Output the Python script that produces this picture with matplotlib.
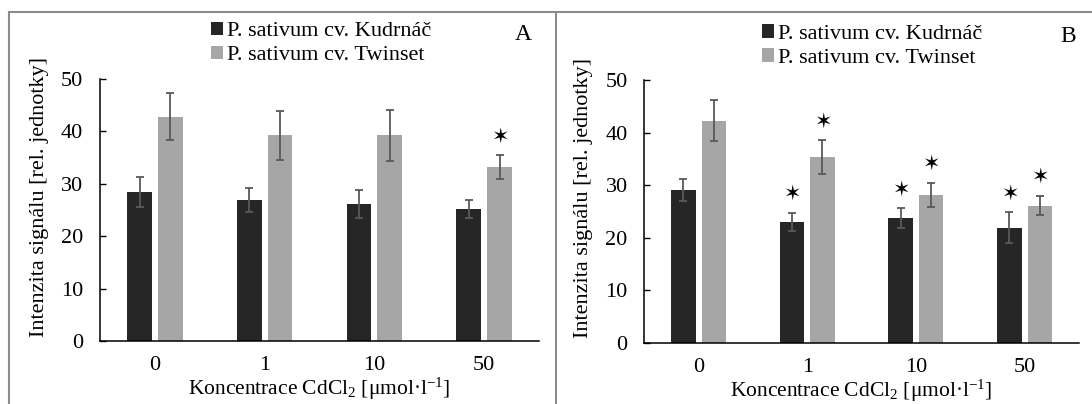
import matplotlib
matplotlib.use("Agg")
import matplotlib.pyplot as plt
from matplotlib.lines import Line2D
import numpy as np

plt.rcParams['font.family'] = ['Liberation Serif', 'DejaVu Serif']
plt.rcParams['mathtext.fontset'] = 'custom'
plt.rcParams['mathtext.rm'] = 'Liberation Serif'
plt.rcParams['mathtext.it'] = 'Liberation Serif:italic'

categories = ['0', '1', '10', '50']
series_names = ['P. sativum cv. Kudrnáč', 'P. sativum cv. Twinset']

# panel A
a_kudrnac = [28.4, 26.9, 26.1, 25.1]
a_kudrnac_err = [2.85, 2.35, 2.7, 1.7]
a_twinset = [42.8, 39.2, 39.2, 33.1]
a_twinset_err = [4.5, 4.6, 4.8, 2.3]
a_kudrnac_sig = [False, False, False, False]
a_twinset_sig = [False, False, False, True]

# panel B
b_kudrnac = [29.1, 23.0, 23.7, 21.9]
b_kudrnac_err = [2.1, 1.7, 1.85, 2.9]
b_twinset = [42.2, 35.3, 28.1, 26.1]
b_twinset_err = [3.9, 3.25, 2.3, 1.8]
b_kudrnac_sig = [False, True, True, True]
b_twinset_sig = [False, True, True, True]

dark = '#262626'
light = '#a6a6a6'
err_col = '#595959'
fs = 16

fig = plt.figure(figsize=(10.92, 4.04), dpi=100)


def panel(rect, k, ke, t, te, ks, ts, letter, letter_xy, leg_xy):
    ax = fig.add_axes(rect)
    x = np.arange(len(categories))
    w = 0.225
    off = 0.14
    ax.bar(x - off, k, w, color=dark, yerr=ke, label=series_names[0],
           error_kw=dict(ecolor=err_col, elinewidth=1.3, capsize=3, capthick=1.3))
    ax.bar(x + off, t, w, color=light, yerr=te, label=series_names[1],
           error_kw=dict(ecolor=err_col, elinewidth=1.3, capsize=3, capthick=1.3))
    # significance stars
    for i in range(len(categories)):
        if ks[i]:
            ax.text(x[i] - off, k[i] + ke[i] + 3.6, '✶', family='DejaVu Sans',
                    fontsize=15, ha='center', va='center')
        if ts[i]:
            ax.text(x[i] + off, t[i] + te[i] + 3.6, '✶', family='DejaVu Sans',
                    fontsize=15, ha='center', va='center')
    ax.set_xlim(-0.5, len(categories) - 0.5)
    ax.set_ylim(0, 50)
    ax.set_yticks(range(0, 51, 10))
    ax.set_xticks(x)
    ax.set_xticklabels(categories)
    ax.tick_params(axis='y', direction='in', length=4, width=1, labelsize=fs, pad=12)
    ax.tick_params(axis='x', length=0, labelsize=fs, pad=11)
    for s in ['top', 'right']:
        ax.spines[s].set_visible(False)
    for s in ['left', 'bottom']:
        ax.spines[s].set_linewidth(1.1)
        ax.spines[s].set_color('black')
    ax.set_ylabel('Intenzita signálu [rel. jednotky]', fontsize=fs, labelpad=9)
    ax.yaxis.label.set_y(0.55)
    ax.set_xlabel('Koncentrace CdCl$_2$ [μmol·l$^{-1}$]', fontsize=15.5, labelpad=0.5)
    ax.legend(loc='upper left', bbox_to_anchor=leg_xy, bbox_transform=fig.transFigure,
              frameon=False, fontsize=fs, borderpad=0, borderaxespad=0,
              handlelength=0.55, handleheight=0.55, handletextpad=0.15,
              labelspacing=0.2)
    fig.text(letter_xy[0], letter_xy[1], letter, fontsize=17, ha='center', va='center')
    return ax


panel([0.0916, 0.156, 0.402, 0.649], a_kudrnac, a_kudrnac_err, a_twinset, a_twinset_err,
      a_kudrnac_sig, a_twinset_sig, 'A', (523 / 1092, 1 - 35 / 404), (211 / 1092, 0.946))
panel([0.590, 0.152, 0.398, 0.650], b_kudrnac, b_kudrnac_err, b_twinset, b_twinset_err,
      b_kudrnac_sig, b_twinset_sig, 'B', (1068 / 1092, 1 - 36 / 404), (762 / 1092, 0.940))

# panel frames
frame = dict(color='#8c8c8c', linewidth=1.5, transform=fig.transFigure)
top = 1 - 12 / 404
fig.add_artist(Line2D([9 / 1092, 9 / 1092], [0, top], **frame))
fig.add_artist(Line2D([9 / 1092, 1], [top, top], **frame))
fig.add_artist(Line2D([556 / 1092, 556 / 1092], [0, top], **frame))

fig.savefig('out.png', dpi=100)
